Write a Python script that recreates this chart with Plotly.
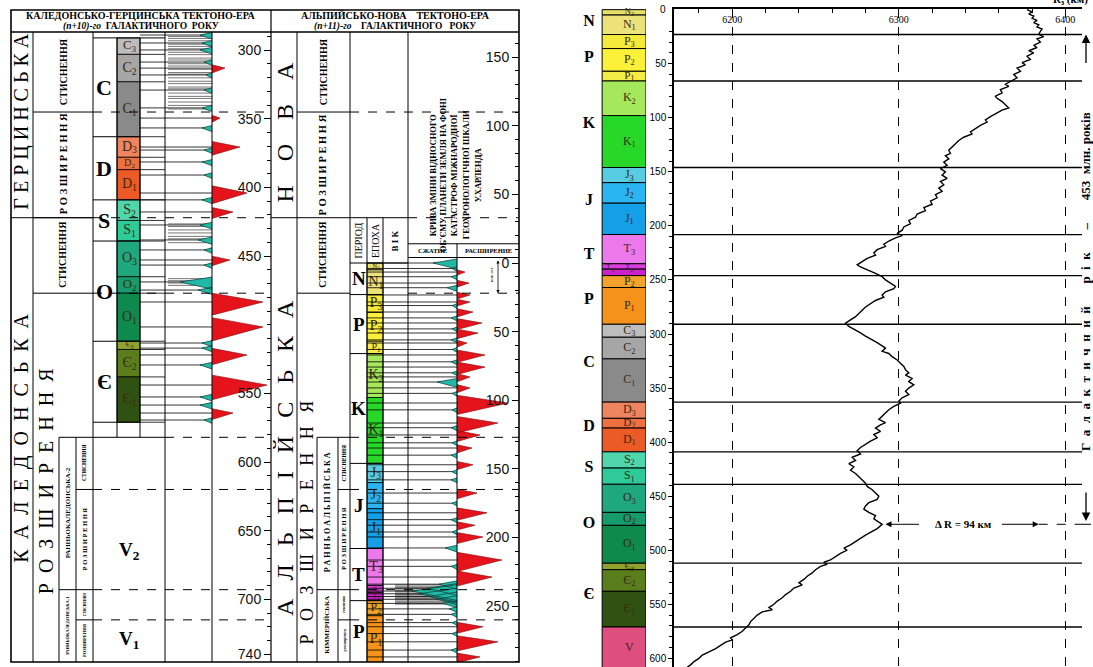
import plotly.graph_objects as go

W, H = 1093, 667

# ---------------- geochronological scale (Ma) ----------------
epoch_labels = ["N<sub>2</sub>", "N<sub>1</sub>", "P<sub>3</sub>", "P<sub>2</sub>", "P<sub>1</sub>",
                "K<sub>2</sub>", "K<sub>1</sub>", "J<sub>3</sub>", "J<sub>2</sub>", "J<sub>1</sub>",
                "T<sub>3</sub>", "T<sub>2</sub>", "T<sub>1</sub>", "P<sub>2</sub>", "P<sub>1</sub>",
                "C<sub>3</sub>", "C<sub>2</sub>", "C<sub>1</sub>", "D<sub>3</sub>", "D<sub>2</sub>",
                "D<sub>1</sub>", "S<sub>2</sub>", "S<sub>1</sub>", "O<sub>3</sub>", "O<sub>2</sub>",
                "O<sub>1</sub>", "Є<sub>3</sub>", "Є<sub>2</sub>", "Є<sub>1</sub>", "V"]
epoch_top = [0, 5, 23, 36, 57, 66, 98, 146, 160, 179, 208, 235, 240, 246, 257,
             291, 303, 323, 363, 378, 387, 409, 424, 439, 465, 477, 512, 518, 538, 571]
epoch_base = [5, 23, 36, 57, 66, 98, 146, 160, 179, 208, 235, 240, 246, 257, 291,
              303, 323, 363, 378, 387, 409, 424, 439, 465, 477, 512, 518, 538, 571, 610]
epoch_colors = ["#e6df6a", "#ebe27a", "#f4ea3c", "#fbf03a", "#f4ec46",
                "#a6e85c", "#28d828", "#58cce0", "#2ab4f0", "#159fe6",
                "#ec78ec", "#dc3cdc", "#cc22cc", "#f2a42a", "#f5921a",
                "#bdbdbd", "#a6a6a6", "#8a8a8a", "#ee8460", "#ee7040",
                "#ec5a26", "#4fd6aa", "#2ecb98", "#1fa87e", "#169c6c",
                "#0f8a4e", "#8ea22e", "#5a7e1c", "#2f5212", "#de4f80"]

period_labels = ["N", "P", "K", "J", "T", "P", "C", "D", "S", "O", "Є"]
period_top = [0, 23, 66, 146, 208, 246, 291, 363, 409, 439, 512]
period_base = [23, 66, 146, 208, 246, 291, 363, 409, 439, 512, 571]

# ---------------- Earth radius through time ----------------
radius_age = [0, 2, 4, 6, 8, 10, 12, 14, 16, 18, 20, 23, 25, 27, 30, 33, 35, 38, 40, 43,
              46, 49, 51, 54, 57, 60, 63, 66, 69, 71, 74, 77, 80, 82, 85, 88, 91, 93, 96, 99,
              102, 104, 107, 110, 113, 115, 118, 121, 124, 127, 130, 133, 135, 138, 141, 144,
              147, 150, 153, 156, 159, 162, 165, 168, 171, 174, 177, 180, 183, 186, 189, 192,
              195, 198, 201, 204, 207, 209, 211, 214, 217, 219, 222, 225, 227, 230, 233, 236,
              238, 241, 244, 247, 250, 253, 256, 258, 261, 264, 266, 269, 272, 275, 278, 281,
              284, 287, 290, 293, 296, 299, 302, 305, 308, 311, 313, 316, 318, 321, 324, 327,
              330, 333, 336, 338, 341, 344, 347, 350, 353, 356, 359, 362, 364, 367, 370, 373,
              376, 379, 382, 384, 387, 390, 393, 396, 399, 402, 405, 408, 411, 414, 417, 420,
              423, 426, 429, 432, 435, 438, 441, 444, 447, 450, 453, 456, 459, 462, 465, 468,
              471, 474, 476, 480, 483, 486, 489, 492, 495, 498, 500, 503, 506, 509, 511, 513,
              515, 518, 521, 524, 527, 530, 532, 535, 538, 541, 544, 547, 550, 553, 555, 557,
              560, 563, 566, 569, 572, 575, 578, 581, 583, 585, 588, 591, 594, 597, 600, 603,
              606, 608]
radius_km = [6377, 6380, 6378, 6381, 6380, 6383, 6381, 6384, 6383, 6386, 6385, 6384, 6387, 6383,
             6385, 6381, 6383, 6378, 6381, 6377, 6379, 6374, 6376, 6371, 6373, 6369, 6371, 6367,
             6364, 6366, 6361, 6362, 6358, 6359, 6362, 6364, 6366, 6362, 6358, 6355, 6352, 6353,
             6349, 6346, 6343, 6344, 6339, 6336, 6334, 6332, 6330, 6331, 6328, 6330, 6327, 6329,
             6325, 6328, 6326, 6329, 6325, 6327, 6324, 6326, 6322, 6323, 6319, 6320, 6315, 6316,
             6311, 6310, 6306, 6307, 6303, 6302, 6299, 6302, 6298, 6294, 6291, 6292, 6287, 6285,
             6286, 6281, 6278, 6275, 6277, 6282, 6286, 6290, 6292, 6295, 6298, 6297, 6292, 6290,
             6291, 6286, 6283, 6280, 6278, 6276, 6274, 6271, 6268, 6270, 6274, 6277, 6280, 6284,
             6287, 6290, 6292, 6290, 6294, 6296, 6299, 6301, 6303, 6304, 6306, 6304, 6308, 6306,
             6309, 6306, 6304, 6306, 6302, 6300, 6301, 6297, 6294, 6292, 6290, 6288, 6292, 6289,
             6286, 6289, 6285, 6287, 6283, 6280, 6277, 6275, 6277, 6272, 6274, 6270, 6273, 6271,
             6274, 6276, 6278, 6280, 6281, 6284, 6286, 6288, 6287, 6282, 6280, 6279, 6282, 6286,
             6285, 6288, 6290, 6287, 6283, 6280, 6277, 6274, 6271, 6267, 6269, 6265, 6262, 6259,
             6255, 6257, 6253, 6250, 6248, 6245, 6243, 6240, 6242, 6237, 6235, 6232, 6230, 6227,
             6225, 6222, 6224, 6218, 6215, 6213, 6211, 6210, 6208, 6206, 6203, 6199, 6200, 6196,
             6193, 6190, 6186, 6182, 6180, 6177, 6175, 6173]
galactic_year_from = 23
galactic_year_to = 476
galactic_year = 453

# ---------------- tectono-era tables ----------------
# phase boundaries of the Alpine-new table (Ma); the Caledonian-Hercynian
# table runs one galactic year earlier
alpine_phase_bounds = [-110, -33, 22, 127, 165, 238, 260]
table_shift = 455

# expansion (red) and compression (cyan) events, Alpine-new era
alpine_exp_age = [6.6, 14.6, 23.3, 28.4, 35.7, 43.7, 51, 58.3, 67, 75.8, 83, 91, 102, 116.6,
                  125.3, 134.8, 147, 167.6, 182, 191, 199.6, 216.4, 228.8, 265, 276, 287]
alpine_exp_size = [8, 12, 13, 13, 16, 25, 21, 10, 28, 28, 13, 13, 51, 41, 23, 15, 16, 20, 30,
                   18, 26, 45, 35, 26, 41, 23]
alpine_exp_dur = [4, 5, 5, 5, 6, 8, 7, 5, 9, 9, 6, 6, 14, 12, 8, 6, 6, 7, 9, 6, 8, 14, 11, 8,
                  11, 7]
alpine_comp_age = [0, 4, 10, 18, 31, 40, 48, 56, 63, 72, 80, 86.7, 95, 107, 120, 131, 140, 152,
                   158, 175, 187, 196, 207.6, 221, 234, 237, 239, 241, 243, 245, 248, 252, 256,
                   262, 270, 282]
alpine_comp_size = [24, 5, 6, 10, 5, 6, 5, 6, 5, 6, 5, 20, 5, 5, 6, 5, 6, 5, 6, 5, 6, 5, 12, 6,
                    18, 30, 45, 38, 28, 20, 14, 8, 6, 5, 5, 6]
alpine_dense = [234.5, 235.5, 236.5, 237.5, 238.5, 239.5, 240.5, 241.5, 242.5, 243.5, 244.5,
                245.5, 246.5, 247.5, 248.5]

# expansion (red) and compression (cyan) events, Caledonian-Hercynian era
hercyn_exp_age = [313, 349.4, 370.5, 404, 417.8, 452.8, 483.4, 501.6, 522, 543.9, 564.3]
hercyn_exp_size = [13, 8, 28, 35, 21, 18, 51, 51, 35, 55, 21]
hercyn_exp_dur = [6, 5, 10, 13, 8, 7, 16, 17, 12, 18, 8]
hercyn_comp_age = [288.9, 294.7, 299.8, 308.6, 318, 329, 342, 356.6, 372.7, 381.4, 390.9, 409,
                   427.3, 438.2, 445.5, 456.5, 468.8, 474.7, 513.3, 517, 529.3, 552.6, 558.5,
                   569.4]
hercyn_comp_size = [12, 10, 12, 8, 6, 8, 10, 10, 8, 10, 8, 10, 12, 14, 8, 8, 32, 14, 10, 10, 12,
                    12, 12, 8]
hercyn_dense = [290, 291.4, 293.1, 295.6, 297.2, 298.9, 301.5, 303.2, 305.7, 307.1, 309.8,
                311.5, 313.9, 316.2, 317.4, 320.1, 322.6, 324.3, 326.8, 328.1, 331.2, 333.6,
                335.1, 337.7, 340.2, 342.8, 426.5, 428.4, 430.9, 433.1, 435.6, 437.4, 440.2,
                466.4, 467.9, 469.6, 471.3]

# ---------------- layout constants ----------------
SERIF = "Liberation Serif"
SANS = "Liberation Sans"
NB = "\u00a0"


def py(pix):
    return 1 - pix / H


def spaced(word, sep=NB + NB):
    return sep.join(word)


# table column edges (table x units)
L0, L1, L1b, L1c, L2, L3, L4, L5, L6, L7 = 11, 33, 59, 76, 93, 117, 140, 165, 212, 271
R1, R1b, R1c, R2, R3, R4, R5, R6, R7 = 297, 317, 338, 350, 367, 383, 408, 457, 519
TOP, HEAD, BOT = py(10), py(32), py(662)

alp_range = [290.7, -168.3]
her_range = [alp_range[0] + table_shift, alp_range[1] + table_shift]

R_RANGE = [6165, 6410]
AGE_RANGE = [608, -0.6]
age_ticks = [0, 50, 100, 150, 200, 250, 300, 350, 400, 450, 500, 550, 600]

fig = go.Figure()
shapes = []
ann = []


def seg(x0, x1, y0, y1, yref, width=1, dash="solid", color="black"):
    shapes.append(dict(type="line", xref="x2", yref=yref, x0=x0, x1=x1, y0=y0, y1=y1,
                       line=dict(color=color, width=width, dash=dash), layer="above"))


def text(x, y, s, yref="y3", size=10, angle=0, xref="x2", family=SERIF, color="black", **kw):
    ann.append(dict(x=x, y=y, xref=xref, yref=yref, text=s, showarrow=False, textangle=angle,
                    font=dict(family=family, size=size, color=color),
                    xanchor="center", yanchor="middle", **kw))


# ================= right chart: Earth radius =================
fig.add_trace(go.Bar(x=[0.5] * len(epoch_top), y=[b - t for t, b in zip(epoch_top, epoch_base)],
                     base=epoch_top, width=1, marker=dict(color=epoch_colors,
                     line=dict(color="black", width=1)), xaxis="x3", yaxis="y",
                     hoverinfo="skip", showlegend=False))
lab_x = [0.62] * len(epoch_labels)
lab_x[12] = 0.18
lab_y = [(t + b) / 2 for t, b in zip(epoch_top, epoch_base)]
lab_y[11] = lab_y[12] = 239
lab_size = [min(12, 5 + (b - t) * 0.7) for t, b in zip(epoch_top, epoch_base)]
fig.add_trace(go.Scatter(x=lab_x, y=lab_y, mode="text", text=epoch_labels,
                         textfont=dict(family=SERIF, size=lab_size, color="#3a2a10"),
                         xaxis="x3", yaxis="y", hoverinfo="skip", showlegend=False,
                         cliponaxis=False))
fig.add_trace(go.Scatter(x=[-0.3] * len(period_labels),
                         y=[(t + b) / 2 for t, b in zip(period_top, period_base)],
                         mode="text", text=["<b>%s</b>" % p for p in period_labels],
                         textfont=dict(family=SERIF, size=16, color="black"),
                         xaxis="x3", yaxis="y", hoverinfo="skip", showlegend=False,
                         cliponaxis=False))
# topmost age label sits on the frame edge, so it is written beside the axis
ann.append(dict(x=668 / W, y=age_ticks[0], xref="paper", yref="y", showarrow=False,
                text=str(age_ticks[0]), font=dict(family=SANS, size=10, color="black"),
                xanchor="right", yanchor="middle"))

# horizontal period boundaries across the chart
bx, by = [], []
for b in period_base:
    bx += [R_RANGE[0], R_RANGE[1], None]
    by += [b, b, None]
fig.add_trace(go.Scatter(x=bx, y=by, mode="lines", line=dict(color="black", width=1.3),
                         hoverinfo="skip", showlegend=False))

fig.add_trace(go.Scatter(x=radius_km, y=radius_age, mode="lines",
                         line=dict(color="black", width=1.4), hoverinfo="skip",
                         showlegend=False))

r_from = radius_km[radius_age.index(galactic_year_from)]
r_to = radius_km[radius_age.index(galactic_year_to)]
d_r = r_from - r_to
mid_r = (r_from + r_to) / 2
ann.append(dict(x=r_to + 2, y=galactic_year_to, ax=mid_r - 24, ay=galactic_year_to, xref="x",
                yref="y", axref="x", ayref="y", text="", showarrow=True, arrowhead=2,
                arrowsize=1.2, arrowwidth=1, arrowcolor="black"))
ann.append(dict(x=r_from, y=galactic_year_to, ax=mid_r + 24, ay=galactic_year_to, xref="x",
                yref="y", axref="x", ayref="y", text="", showarrow=True, arrowhead=2,
                arrowsize=1.2, arrowwidth=1, arrowcolor="black"))
ann.append(dict(x=mid_r + 2, y=galactic_year_to, xref="x", yref="y", showarrow=False,
                text="<b>Δ R = %d км</b>" % d_r,
                font=dict(family=SERIF, size=11, color="black"), bgcolor="white"))
shapes.append(dict(type="line", xref="x", yref="y", x0=r_from, x1=R_RANGE[1],
                   y0=galactic_year_to, y1=galactic_year_to,
                   line=dict(color="black", width=1, dash="dash")))
shapes.append(dict(type="line", xref="paper", yref="y", x0=1082 / W, x1=1.0,
                   y0=galactic_year_to, y1=galactic_year_to,
                   line=dict(color="black", width=1, dash="dash")))

# galactic year marker on the right margin
ann.append(dict(x=1086 / W, y=galactic_year_from, ax=0, ay=30, xref="paper", yref="y",
                text="", showarrow=True, arrowhead=2, arrowsize=1.3, arrowwidth=1.3,
                arrowcolor="black"))
ann.append(dict(x=1086 / W, y=galactic_year_to - 3, ax=0, ay=-30, xref="paper", yref="y",
                text="", showarrow=True, arrowhead=2, arrowsize=1.3, arrowwidth=1.3,
                arrowcolor="black"))
gap = NB * 7
gy_text = ("<b>" + spaced("Галактичний") + gap + spaced("рік") + gap + "–" + gap +
           "%d%sмлн. років</b>" % (galactic_year, NB + NB))
ann.append(dict(x=1085 / W, y=252, xref="paper", yref="y", showarrow=False, textangle=-90,
                text=gy_text, font=dict(family=SERIF, size=13, color="black"),
                xanchor="center", yanchor="middle"))
ann.append(dict(x=1070 / W, y=1.0, xref="paper", yref="paper", showarrow=False,
                text="<b>R<sub>з</sub> (км)</b>", font=dict(family=SERIF, size=11, color="black"),
                xanchor="center", yanchor="middle"))

# ================= tables =================
# colored epoch cells
her_idx = [i for i, t in enumerate(epoch_top) if 291 <= t < 571]
alp_idx = [i for i, t in enumerate(epoch_top) if t < 291]
for idx, yax, x0, x1 in ((her_idx, "y2", L3, L4), (alp_idx, "y3", R3, R4)):
    fig.add_trace(go.Bar(x=[(x0 + x1) / 2] * len(idx),
                         y=[epoch_base[i] - epoch_top[i] for i in idx],
                         base=[epoch_top[i] for i in idx], width=x1 - x0,
                         marker=dict(color=[epoch_colors[i] for i in idx],
                                     line=dict(color="black", width=0.8)),
                         xaxis="x2", yaxis=yax, hoverinfo="skip", showlegend=False))
    fig.add_trace(go.Scatter(x=[(x0 + x1) / 2 + 1] * len(idx),
                             y=[(epoch_top[i] + epoch_base[i]) / 2 for i in idx],
                             mode="text", text=[epoch_labels[i] for i in idx],
                             textfont=dict(family=SERIF,
                                           size=[min(14, 2 + 0.9 * (epoch_base[i] - epoch_top[i])) for i in idx],
                                           color="#3a2a10"),
                             xaxis="x2", yaxis=yax, hoverinfo="skip", showlegend=False))

# period letters and boxes
for i, p in enumerate(period_labels):
    t, b = period_top[i], period_base[i]
    if t >= 291:
        text((L2 + L3) / 2 - 1, (t + b) / 2, "<b>%s</b>" % p, yref="y2", size=22)
        seg(L2, L4, b, b, "y2")
    else:
        text((R2 + R3) / 2, (t + b) / 2, "<b>%s</b>" % p, yref="y3", size=19)
        seg(R2, R4, b, b, "y3")
seg(L2, L5, 291, 291, "y2")
seg(R2, R5, 0, 0, "y3")

# stage lines in the age column of the older table
for i in her_idx:
    seg(L4, L5, epoch_base[i], epoch_base[i], "y2", width=0.8)


def spikes(ages, sizes, durs, base, sign):
    xs, ys = [], []
    for a, s, d in zip(ages, sizes, durs):
        xs += [base, base + sign * s, base, None]
        ys += [a - d * 0.4, a, a + d * 0.6, None]
    return xs, ys


def comb(ages, x0, x1):
    xs, ys = [], []
    for a in ages:
        xs += [x0, x1, None]
        ys += [a, a, None]
    return xs, ys


for yax, exp_a, exp_s, exp_d, comp_a, comp_s, dense, base, left in (
        ("y2", hercyn_exp_age, hercyn_exp_size, hercyn_exp_dur, hercyn_comp_age,
         hercyn_comp_size, hercyn_dense, L6, L4),
        ("y3", alpine_exp_age, alpine_exp_size, alpine_exp_dur, alpine_comp_age,
         alpine_comp_size, alpine_dense, R6, R3)):
    cx, cy = comb(dense, left + 28, base)
    fig.add_trace(go.Scatter(x=cx, y=cy, mode="lines", line=dict(color="#777", width=1),
                             xaxis="x2", yaxis=yax, hoverinfo="skip", showlegend=False))
    cx, cy = comb(list(exp_a) + list(comp_a), left, base)
    fig.add_trace(go.Scatter(x=cx, y=cy, mode="lines", line=dict(color="black", width=0.8),
                             xaxis="x2", yaxis=yax, hoverinfo="skip", showlegend=False))
    sx, sy = spikes(comp_a, comp_s, [2.5 + 0.2 * s for s in comp_s], base, -1)
    fig.add_trace(go.Scatter(x=sx, y=sy, mode="lines", fill="toself", fillcolor="#1fb9a6",
                             line=dict(color="#0c3a34", width=0.7), xaxis="x2", yaxis=yax,
                             hoverinfo="skip", showlegend=False))
    sx, sy = spikes(exp_a, exp_s, exp_d, base, 1)
    fig.add_trace(go.Scatter(x=sx, y=sy, mode="lines", fill="toself", fillcolor="#e5141c",
                             line=dict(color="#7a0a0a", width=0.6), xaxis="x2", yaxis=yax,
                             hoverinfo="skip", showlegend=False))

# frame of the two tables
shapes.append(dict(type="rect", xref="x2", yref="paper", x0=L0, x1=R7, y0=BOT, y1=TOP,
                   line=dict(color="black", width=1.6)))
shapes.append(dict(type="line", xref="x2", yref="paper", x0=L0, x1=R7, y0=HEAD, y1=HEAD,
                   line=dict(color="black", width=1.4)))
for x, yt in ((L1, HEAD), (L2, HEAD), (L5, HEAD), (L6, HEAD), (L7, TOP), (R1, HEAD),
              (R2, HEAD), (R5, HEAD)):
    shapes.append(dict(type="line", xref="x2", yref="paper", x0=x, x1=x, y0=BOT, y1=yt,
                       line=dict(color="black", width=1.2 if x == L7 else 1)))

her_b = [b + table_shift for b in alpine_phase_bounds]
for x in (L3, L4):
    seg(x, x, 291, her_b[3], "y2")
for x in (R3, R4):
    seg(x, x, -33, alp_range[0], "y3")
seg(R6, R6, -14, alp_range[0], "y3")

# phase boundaries
seg(L0, L2, her_b[1], her_b[1], "y2")
for b in her_b[:3]:
    seg(L1, L2, b, b, "y2")
    seg(L2, L7, b, b, "y2", dash="dash")
seg(L1b, L5, her_b[3], her_b[3], "y2")
seg(L5, L7, her_b[3], her_b[3], "y2", dash="dash")
seg(L1c, L2, her_b[4], her_b[4], "y2")
seg(L1b, L2, her_b[5], her_b[5], "y2")
seg(L1c, L2, her_b[6], her_b[6], "y2")
for b in her_b[4:]:
    seg(L2, L7, b, b, "y2", dash="dash")
for x in (L1b, L1c):
    seg(x, x, her_b[3], her_range[0], "y2")

a_b = alpine_phase_bounds
seg(R1, R2, a_b[0], a_b[0], "y3")
seg(R2, R7, a_b[0], a_b[0], "y3", dash="dash")
seg(L7, R5, a_b[1], a_b[1], "y3")
seg(R5, R7, a_b[1], a_b[1], "y3", dash="dash")
seg(R1, R2, a_b[2], a_b[2], "y3")
seg(R5, R7, a_b[2], a_b[2], "y3", dash="dash")
seg(R1b, R2, a_b[3], a_b[3], "y3")
seg(R1c, R2, a_b[4], a_b[4], "y3")
seg(R1b, R2, a_b[5], a_b[5], "y3")
seg(R1c, R2, a_b[6], a_b[6], "y3")
for b in a_b[3:]:
    seg(R2, R7, b, b, "y3", dash="dash")
for x in (R1b, R1c):
    seg(x, x, a_b[3], alp_range[0], "y3")
seg(R5, R7, -14, -14, "y3")
seg(R5, R7, -4, -4, "y3")

# headers
hy1, hy2 = py(16), py(26.5)
for x, s1, s2 in (((L0 + L7) / 2, "<b>КАЛЕДОНСЬКО-ГЕРЦИНСЬКА ТЕКТОНО-ЕРА</b>",
                   "<b><i>(n+10)-го</i>  ГАЛАКТИЧНОГО  РОКУ</b>"),
                  ((L7 + R7) / 2, "<b>АЛЬПИЙСЬКО-НОВА    ТЕКТОНО-ЕРА</b>",
                   "<b><i>(n+11)-го</i>    ГАЛАКТИЧНОГО   РОКУ</b>")):
    text(x, hy1, s1, yref="paper", size=10)
    text(x, hy2, s2, yref="paper", size=9.5)

# rotated labels of the older table
text(22, 352, spaced("ГЕРЦИНСЬКА", NB), yref="y2", size=20, angle=-90)
text(22, 583, spaced("КАЛЕДОНСЬКА", NB * 2), yref="y2", size=20, angle=-90)
text(63, 316, "<b>СТИСНЕННЯ</b>", yref="y2", size=10, angle=-90)
text(63, 383, "<b>" + spaced("РОЗШИРЕННЯ", NB) + "</b>", yref="y2", size=10.5, angle=-90)
text(63, 449, "<b>СТИСНЕННЯ</b>", yref="y2", size=10, angle=-90)
text(46, 614, spaced("РОЗШИРЕННЯ", NB * 2), yref="y2", size=20, angle=-90)
text(67.5, 637, "<b>РАННЬОКАЛЕДОНСЬКА-2</b>", yref="y2", size=7, angle=-90)
text(67.5, 719, "<b>РАННЬОКАЛЕДОНСЬКА-1</b>", yref="y2", size=4.5, angle=-90)
text(84.5, 601, "<b>СТИСНЕННЯ</b>", yref="y2", size=5.5, angle=-90)
text(84.5, 656, "<b>Р О З Ш И Р Е Н Н Я</b>", yref="y2", size=6.5, angle=-90)
text(84.5, 704, "<b>СТИСНЕННЯ</b>", yref="y2", size=3.5, angle=-90)
text(84.5, 730, "<b>РОЗШИРЕННЯ</b>", yref="y2", size=4.5, angle=-90)
text(129, 665, "<b>V<sub>2</sub></b>", yref="y2", size=19)
text(129, 730, "<b>V<sub>1</sub></b>", yref="y2", size=19)

# rotated labels of the younger table
text(285, -95, spaced("НОВА", NB * 4), yref="y3", size=24, angle=-90)
text(285, 142, spaced("АЛЬПІЙСЬКА", NB * 3), yref="y3", size=24, angle=-90)
text(323, -139, "<b>СТИСНЕННЯ</b>", yref="y3", size=10, angle=-90)
text(323, -71, "<b>" + spaced("РОЗШИРЕННЯ", NB) + "</b>", yref="y3", size=10.5, angle=-90)
text(323, -6, "<b>СТИСНЕННЯ</b>", yref="y3", size=10, angle=-90)
text(307, 189, spaced("РОЗШИРЕННЯ", NB * 3), yref="y3", size=18, angle=-90)
text(327.5, 182, "<b>Р А Н Н Ь О А Л Ь П І Й С Ь К А</b>", yref="y3", size=8, angle=-90)
text(327.5, 264, "<b>КІММЕРІЙСЬКА</b>", yref="y3", size=7, angle=-90)
text(344, 146, "<b>СТИСНЕННЯ</b>", yref="y3", size=5.5, angle=-90)
text(344, 201, "<b>Р О З Ш И Р Е Н Н Я</b>", yref="y3", size=6.5, angle=-90)
text(344, 249, "<b>стиснення</b>", yref="y3", size=3.5, angle=-90)
text(344, 275, "<b>розширення</b>", yref="y3", size=4, angle=-90)
text((R2 + R3) / 2, -16, "ПЕРІОД", yref="y3", size=10, angle=-90)
text((R3 + R4) / 2, -16, "ЕПОХА", yref="y3", size=10, angle=-90)
text((R4 + R5) / 2, -16, "<b>В І К</b>", yref="y3", size=9, angle=-90)
for x, s in ((433, "КРИВА ЗМІНИ ВІДНОСНОГО"), (443, "ОБ'ЄМУ ПЛАНЕТИ ЗЕМЛЯ НА ФОНІ"),
             (454, "КАТАСТРОФ МІЖНАРОДНОЇ"), (466, "ГЕОХРОНОЛОГІЧНОЇ ШКАЛИ"),
             (478, "У.ХАРЛЕНДА")):
    text(x, -64, "<b>%s</b>" % s, yref="y3", size=8.5, angle=-90)
text((R5 + R6) / 2, -9, "<b>СЖАТИЕ</b>", yref="y3", size=6.5)
text((R6 + R7) / 2, -9, "<b>РАСШИРЕНИЕ</b>", yref="y3", size=6.5)
ann.append(dict(x=498, y=22, ax=498, ay=-3, xref="x2", yref="y3", axref="x2", ayref="y3",
                text="", showarrow=True, arrowhead=2, arrowside="end+start", arrowsize=0.8,
                arrowwidth=0.8, arrowcolor="black"))
text(491, 9, "млн лет", yref="y3", size=4.5, angle=-90)

tick_font = dict(family=SANS, size=14, color="#111")
fig.update_layout(
    width=W, height=H, margin=dict(l=0, r=0, t=0, b=0),
    paper_bgcolor="white", plot_bgcolor="rgba(0,0,0,0)", barmode="overlay",
    showlegend=False, shapes=shapes, annotations=ann,
    xaxis=dict(domain=[674 / W, 1082 / W], range=R_RANGE, side="top", anchor="y",
               showline=True, linecolor="black", linewidth=1.5, mirror=False,
               ticks="inside", ticklen=6, tickcolor="black", dtick=100, tick0=6200,
               ticklabelposition="inside", tickfont=dict(family=SERIF, size=10, color="black"),
               minor=dict(dtick=20, ticks="inside", ticklen=4, tickcolor="black"),
               showgrid=True, gridcolor="black", griddash="dash", gridwidth=1, zeroline=False),
    yaxis=dict(domain=[0, 1 - 9 / H], range=AGE_RANGE, anchor="x", showline=True,
               linecolor="black", linewidth=1.5, ticks="outside", ticklen=4, tickcolor="black",
               tickvals=age_ticks[1:], tickfont=dict(family=SANS, size=10, color="black"),
               minor=dict(dtick=10, ticks="outside", ticklen=3, tickcolor="black"),
               showgrid=False, zeroline=False),
    xaxis3=dict(domain=[578 / W, 646 / W], range=[-0.55, 1.0], anchor="y", visible=False),
    xaxis2=dict(domain=[0, 530 / W], range=[0, 530], anchor="y2", visible=False),
    yaxis2=dict(domain=[BOT, HEAD], range=her_range, anchor="free", position=L7 / W,
                side="left", showline=False, ticks="outside", ticklen=7, tickcolor="black",
                tickvals=[300, 350, 400, 450, 550, 600, 650, 700, 740], tickfont=tick_font,
                minor=dict(dtick=10, ticks="outside", ticklen=4, tickcolor="black"),
                showgrid=False, zeroline=False),
    yaxis3=dict(domain=[BOT, HEAD], range=alp_range, anchor="free", position=R7 / W,
                overlaying="y2", side="left", showline=False, ticks="outside", ticklen=7,
                tickcolor="black", tickvals=[-150, -100, -50, 0, 50, 100, 150, 200, 250],
                ticktext=["150", "100", "50", "0", "50", "100", "150", "200", "250"],
                tickfont=tick_font,
                minor=dict(dtick=10, ticks="outside", ticklen=4, tickcolor="black"),
                showgrid=False, zeroline=False),
)

fig.write_html("out.html")
